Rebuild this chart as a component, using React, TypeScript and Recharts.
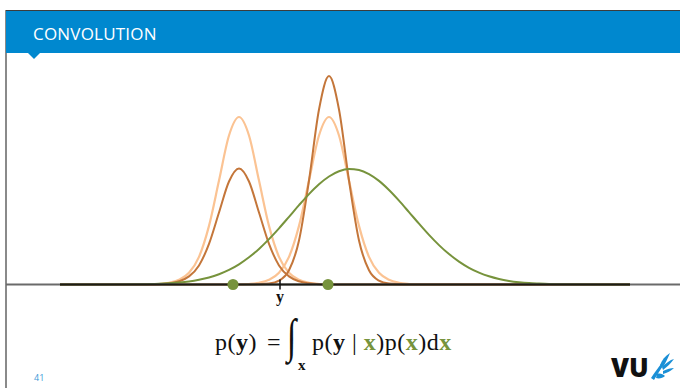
import React from "react";
import { ComposedChart, Line, XAxis, YAxis, ReferenceLine, ReferenceDot } from "recharts";

// sample positions along the horizontal axis
const positions = [
  60, 139, 149, 159, 169, 179, 189, 199, 209, 219, 229, 239, 249, 259, 269, 279, 289, 299, 309, 319, 329,
  339, 349, 359, 369, 379, 389, 399, 409, 419, 429, 439, 449, 459, 469, 479, 489, 499, 509, 519, 529, 539,
  549, 559, 630,
];

// p(y | x) for the two observed x values (light orange)
const likelihoodLeft = [
  0, 0, 0, 0.5, 1.7, 4.7, 11.7, 27.6, 58.6, 103.9, 149, 167.5, 149, 103.9, 58.6, 27.6, 11.7, 4.7, 1.7, 0.5, 0,
  0, 0, 0, 0, 0, 0, 0, 0, 0, 0, 0, 0, 0, 0, 0, 0, 0, 0, 0, 0, 0, 0, 0, 0,
];
const likelihoodRight = [
  0, 0, 0, 0, 0, 0, 0, 0, 0, 0, 0, 0, 0.5, 1.7, 4.7, 11.7, 27.6, 58.6, 103.9, 149, 167.5,
  149, 103.9, 58.6, 27.6, 11.7, 4.7, 1.7, 0.5, 0, 0, 0, 0, 0, 0, 0, 0, 0, 0, 0, 0, 0, 0, 0, 0,
];

// p(y | x) p(x), weighted by the prior (dark orange)
const weightedLeft = [
  0, 0, 0, 0.3, 1.2, 3.2, 8.1, 19.1, 40.6, 72, 103, 116, 103, 72, 40.6, 19.1, 8.1, 3.2, 1.2, 0.3, 0,
  0, 0, 0, 0, 0, 0, 0, 0, 0, 0, 0, 0, 0, 0, 0, 0, 0, 0, 0, 0, 0, 0, 0, 0,
];
const weightedRight = [
  0, 0, 0, 0, 0, 0, 0, 0, 0, 0, 0, 0, 0, 0.2, 0.9, 3.8, 14.2, 44, 104, 175, 208.5,
  175, 104, 44, 14.2, 3.8, 0.9, 0.2, 0, 0, 0, 0, 0, 0, 0, 0, 0, 0, 0, 0, 0, 0, 0, 0, 0,
];

// marginal p(y) (green)
const marginal = [
  0, 0.2, 0.4, 0.7, 1.2, 1.9, 3.0, 4.7, 7.0, 10.3, 14.6, 20.2, 27.2, 35.6, 45.4, 56.2, 67.7, 79.3, 90.4,
  100.2, 108.0, 113.2, 115.5, 114.5, 110.4, 103.6, 94.5, 83.9, 72.4, 60.8, 49.6, 39.4, 30.4, 22.9, 16.7,
  11.9, 8.2, 5.5, 3.6, 2.3, 1.4, 0.9, 0.5, 0.3, 0,
];

const observedX = [233, 328];
const tickPositions = [280];
const tickLabels = ["y"];
const baselineSpan = [60, 630];

const data = positions.map((x, i) => ({
  x,
  likeL: likelihoodLeft[i],
  likeR: likelihoodRight[i],
  wL: weightedLeft[i],
  wR: weightedRight[i],
  marg: marginal[i],
}));

const BLUE = "#0088cf";
const GREEN = "#77933c";
const LIGHT = "#fbc393";
const DARK = "#c4763a";
const SERIF = "'Liberation Serif', 'DejaVu Serif', serif";

function AxisTick(props: any) {
  const { x, y, index } = props;
  return (
    <g>
      <line x1={x} x2={x} y1={y - 5} y2={y + 5} stroke="#111" strokeWidth={1.5} />
      <text x={x} y={y + 17} textAnchor="middle" fontFamily={SERIF} fontWeight="bold" fontSize={16} fill="#111">
        {tickLabels[index] ?? tickLabels[0]}
      </text>
    </g>
  );
}

function Bold({ children, color }: { children: React.ReactNode; color?: string }) {
  return <span style={{ fontWeight: "bold", color: color ?? "#111" }}>{children}</span>;
}

export default function App() {
  return (
    <div
      style={{
        position: "fixed",
        left: 0,
        top: 0,
        width: 680,
        height: 388,
        background: "#fff",
        overflow: "hidden",
      }}
    >
      {/* left slide border */}
      <div style={{ position: "absolute", left: 5, top: 10, width: 2, height: 378, background: "#8a8a8a" }} />

      {/* title bar */}
      <div
        style={{
          position: "absolute",
          left: 6,
          top: 10,
          width: 674,
          height: 43,
          background: BLUE,
          borderTop: "1px solid #3c3c3c",
          boxSizing: "border-box",
        }}
      >
        <span
          style={{
            position: "absolute",
            left: 27,
            top: 11,
            color: "#fff",
            fontFamily: "'Open Sans', sans-serif",
            fontSize: 17,
            letterSpacing: 0.2,
          }}
        >
          CONVOLUTION
        </span>
      </div>
      <div
        style={{
          position: "absolute",
          left: 28,
          top: 53,
          width: 0,
          height: 0,
          borderLeft: "6px solid transparent",
          borderRight: "6px solid transparent",
          borderTop: `6px solid ${BLUE}`,
        }}
      />

      <div style={{ position: "absolute", left: 6, top: 50 }}>
        <ComposedChart width={674} height={270} data={data} margin={{ top: 4, right: 0, bottom: 0, left: 0 }}>
          <XAxis
            dataKey="x"
            type="number"
            domain={[6, 680]}
            ticks={tickPositions}
            interval={0}
            tickSize={0}
            tickMargin={0}
            tickLine={false}
            axisLine={false}
            tick={<AxisTick />}
            height={35.5}
          />
          <YAxis hide domain={[0, 230.5]} />
          <Line type="monotone" dataKey="likeL" stroke={LIGHT} strokeWidth={2.2} dot={false} isAnimationActive={false} />
          <Line type="monotone" dataKey="likeR" stroke={LIGHT} strokeWidth={2.2} dot={false} isAnimationActive={false} />
          <Line type="monotone" dataKey="wL" stroke={DARK} strokeWidth={2} dot={false} isAnimationActive={false} />
          <Line type="monotone" dataKey="wR" stroke={DARK} strokeWidth={2} dot={false} isAnimationActive={false} />
          <Line type="monotone" dataKey="marg" stroke={GREEN} strokeWidth={2} dot={false} isAnimationActive={false} />
          <ReferenceLine y={0} stroke="#6a6a6a" strokeWidth={2} />
          <ReferenceLine
            segment={[
              { x: baselineSpan[0], y: 0 },
              { x: baselineSpan[1], y: 0 },
            ]}
            stroke="#1c1c16"
            strokeWidth={2}
          />
          {observedX.map((x) => (
            <ReferenceDot key={x} x={x} y={0} r={5.5} fill={GREEN} stroke="none" />
          ))}
        </ComposedChart>
      </div>

      {/* formula */}
      <div style={{ position: "absolute", left: 0, top: 329, fontFamily: SERIF, fontSize: 24, lineHeight: "27px", color: "#111" }}>
        <span style={{ position: "absolute", left: 215, whiteSpace: "nowrap", letterSpacing: 0.5 }}>
          p(<Bold>y</Bold>)
        </span>
        <span style={{ position: "absolute", left: 267 }}>=</span>
        <span
          style={{
            position: "absolute",
            left: 287,
            top: -7,
            fontSize: 34,
            transform: "scaleY(1.4)",
            transformOrigin: "center",
          }}
        >
          ∫
        </span>
        <span style={{ position: "absolute", left: 298, top: 23, fontSize: 15, fontWeight: "bold" }}>x</span>
        <span style={{ position: "absolute", left: 312, whiteSpace: "nowrap", letterSpacing: 0.5 }}>
          p(<Bold>y</Bold> | <Bold color={GREEN}>x</Bold>)p(<Bold color={GREEN}>x</Bold>)d<Bold color={GREEN}>x</Bold>
        </span>
      </div>

      {/* page number */}
      <div
        style={{
          position: "absolute",
          left: 34,
          top: 371,
          fontFamily: "'Open Sans', sans-serif",
          fontSize: 9,
          color: "#3d9ad8",
        }}
      >
        41
      </div>

      {/* VU mark */}
      <div
        style={{
          position: "absolute",
          left: 611,
          top: 352,
          fontFamily: "'Open Sans', sans-serif",
          fontWeight: 800,
          fontSize: 26,
          lineHeight: "30px",
          color: "#111",
        }}
      >
        VU
      </div>
      <svg style={{ position: "absolute", left: 648, top: 350 }} width={28} height={32}>
        <g fill="#1a8fd6">
          <path d="M3 28 C7 22 10 18 13 14 L15 16 C12 20 9 25 6 30 Z" />
          <path d="M12 15 C14 10 17 6 22 3 C20 8 18 12 15 17 Z" />
          <path d="M14 17 C18 13 22 10 26 9 C23 13 19 17 15 20 Z" />
          <path d="M15 21 C19 19 23 18 26 18 C23 21 19 23 15 24 Z" />
          <path d="M9 24 C12 23 15 24 17 26 C15 28 11 29 8 28 Z" />
        </g>
      </svg>
    </div>
  );
}
